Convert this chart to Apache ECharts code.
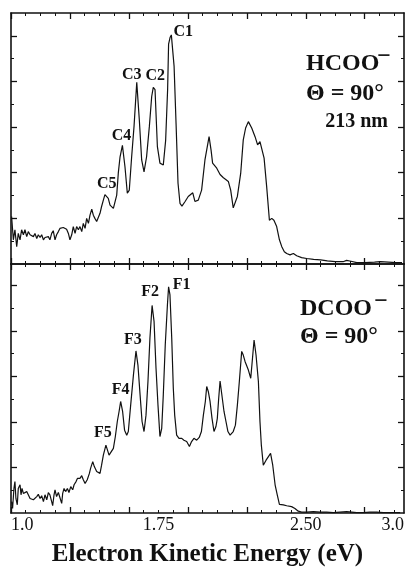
<!DOCTYPE html>
<html>
<head>
<meta charset="utf-8">
<script src="https://cdn.jsdelivr.net/npm/echarts@6/dist/echarts.min.js"></script>
<style>
  html, body { margin: 0; padding: 0; background: #fff; }
  #chart { width: 415px; height: 573px; }
</style>
</head>
<body>
<div id="chart"></div>
<script>
// Photoelectron spectra of HCOO- and DCOO- at 90 degrees (213 nm)
// Electron kinetic energy (eV) and relative signal (arb. units)

const hcooEnergy = [
  1.003,1.012,1.020,1.029,1.037,1.046,1.054,1.063,1.071,1.080,1.088,1.097,1.105,1.114,1.122,1.131,
  1.139,1.148,1.156,1.165,1.173,1.182,1.190,1.198,1.207,1.215,1.224,1.232,1.241,1.249,1.258,1.266,
  1.275,1.283,1.292,1.300,1.309,1.317,1.326,1.334,1.343,1.351,1.360,1.368,1.377,1.385,1.394,1.402,
  1.411,1.419,1.427,1.436,1.444,1.453,1.461,1.470,1.478,1.487,1.495,1.504,1.521,1.529,1.538,1.546,
  1.555,1.567,1.580,1.592,1.602,1.614,1.626,1.640,1.653,1.665,1.677,1.690,1.704,1.716,1.724,1.733,
  1.745,1.758,1.775,1.787,1.797,1.802,1.810,1.816,1.819,1.830,1.840,1.850,1.860,1.870,1.886,1.902,
  1.925,1.936,1.953,1.970,1.987,2.008,2.018,2.026,2.047,2.064,2.081,2.106,2.118,2.131,2.152,2.169,
  2.182,2.194,2.208,2.225,2.242,2.255,2.267,2.276,2.288,2.301,2.315,2.327,2.338,2.352,2.366,2.378,
  2.391,2.403,2.420,2.437,2.454,2.479,2.505,2.540,2.575,2.610,2.650,2.690,2.708,2.730,2.760,2.800,
  2.850,2.880,2.920,2.960,2.990
];
const hcooSignal = [
  1.04,0.53,0.75,0.38,0.67,0.53,0.75,0.64,0.75,0.60,0.71,0.64,0.67,0.60,0.67,0.56,
  0.64,0.58,0.64,0.53,0.58,0.54,0.60,0.53,0.67,0.73,0.53,0.64,0.71,0.78,0.82,0.80,
  0.82,0.76,0.67,0.53,0.64,0.82,0.67,0.82,0.75,0.82,0.71,0.89,0.78,1.00,0.89,1.07,
  1.20,1.07,1.00,0.93,0.96,1.11,1.26,1.40,1.52,1.55,1.44,1.29,1.22,1.26,1.51,1.99,
  2.35,2.60,2.13,1.55,1.62,2.35,3.01,3.98,3.16,2.28,2.02,2.35,3.01,3.67,3.87,3.82,
  2.57,2.21,2.17,2.71,3.82,4.82,4.97,5.02,4.99,4.33,3.08,1.77,1.33,1.27,1.37,1.48,
  1.56,1.37,1.40,1.62,2.28,2.79,2.50,2.21,2.10,1.96,1.89,1.81,1.62,1.23,1.48,1.99,
  2.72,2.98,3.12,2.98,2.79,2.61,2.68,2.72,2.32,1.70,0.96,1.00,0.96,0.82,0.53,0.38,
  0.27,0.23,0.20,0.23,0.18,0.14,0.12,0.10,0.09,0.07,0.05,0.05,0.08,0.06,0.03,0.03,
  0.04,0.05,0.04,0.03,0.03
];

const dcooEnergy = [
  1.003,1.008,1.015,1.020,1.025,1.032,1.037,1.046,1.051,1.056,1.063,1.071,1.080,1.088,1.097,1.105,
  1.114,1.122,1.131,1.139,1.148,1.156,1.165,1.173,1.182,1.190,1.198,1.207,1.212,1.219,1.224,1.232,
  1.241,1.249,1.258,1.263,1.270,1.278,1.287,1.295,1.304,1.314,1.321,1.331,1.338,1.344,1.351,1.360,
  1.368,1.377,1.388,1.399,1.405,1.416,1.424,1.436,1.453,1.461,1.470,1.483,1.490,1.499,1.509,1.521,
  1.531,1.541,1.550,1.558,1.568,1.578,1.589,1.597,1.609,1.623,1.636,1.646,1.657,1.667,1.677,1.687,
  1.697,1.707,1.718,1.728,1.738,1.748,1.758,1.767,1.775,1.785,1.796,1.802,1.809,1.818,1.826,1.833,
  1.843,1.855,1.869,1.880,1.894,1.908,1.919,1.931,1.945,1.958,1.969,1.979,1.989,1.996,2.004,2.013,
  2.023,2.033,2.043,2.050,2.057,2.064,2.072,2.084,2.094,2.104,2.115,2.123,2.131,2.142,2.152,2.162,
  2.174,2.182,2.191,2.208,2.220,2.226,2.237,2.247,2.259,2.267,2.274,2.284,2.298,2.310,2.321,2.332,
  2.344,2.355,2.366,2.386,2.403,2.428,2.445,2.462,2.479,2.505,2.539,2.573,2.606,2.640,2.674,2.708,
  2.734,2.759,2.793,2.827,2.861,2.895,2.980
];
const dcooSignal = [
  0.25,0.10,0.54,0.69,0.32,0.18,0.54,0.62,0.40,0.54,0.43,0.40,0.47,0.40,0.32,0.36,
  0.29,0.25,0.36,0.41,0.32,0.38,0.25,0.40,0.29,0.45,0.40,0.25,0.16,0.40,0.51,0.36,
  0.45,0.48,0.21,0.43,0.54,0.47,0.54,0.45,0.58,0.51,0.62,0.69,0.76,0.80,0.76,0.82,
  0.73,0.65,0.73,0.87,0.98,1.13,1.02,0.91,0.87,1.05,1.27,1.49,1.48,1.27,1.27,1.42,
  1.68,2.01,2.23,2.45,2.23,1.82,1.71,1.79,2.37,3.03,3.56,3.25,2.59,2.01,1.79,2.15,
  2.89,3.84,4.56,4.21,3.18,2.37,1.68,1.86,2.59,3.69,4.57,4.97,4.79,3.84,2.74,2.15,
  1.71,1.64,1.64,1.60,1.57,1.46,1.57,1.64,1.60,1.66,1.79,2.15,2.45,2.78,2.67,2.45,
  2.08,1.79,1.90,2.08,2.52,2.90,2.63,2.23,2.01,1.79,1.71,1.68,1.79,1.93,2.37,2.89,
  3.55,3.47,3.33,3.14,2.96,3.25,3.80,3.47,2.89,2.01,1.49,1.05,1.16,1.24,1.31,1.05,
  0.62,0.40,0.19,0.18,0.16,0.14,0.10,0.04,0.02,0.02,0.03,0.02,0.02,0.01,0.02,0.03,
  0.02,0.01,0.01,0.02,0.02,0.01,0.01
];

// Labelled vibrational peaks: name and energy of the peak maximum
const hcooPeakNames = ['C1', 'C2', 'C3', 'C4', 'C5'];
const hcooPeakEnergy = [1.816, 1.724, 1.640, 1.567, 1.487];
const dcooPeakNames = ['F1', 'F2', 'F3', 'F4', 'F5'];
const dcooPeakEnergy = [1.802, 1.718, 1.636, 1.558, 1.483];

// Axis ticks and labels
const xMajorTicks = [1.0, 1.3, 1.6, 1.9, 2.2, 2.5, 2.8];
const xLabelValues = [1.0, 1.75, 2.5, 3.0];
const xTickLabels = ['1.0', '1.75', '2.50', '3.0'];
const yMajorTicks = [1, 2, 3, 4, 5];
const yMinorTicks = [0.5, 1.5, 2.5, 3.5, 4.5];

// minor x ticks every 0.075 eV between the major ones
const xMinorTicks = [];
for (let k = 1; k < 27; k++) {
  if (k % 4 !== 0) xMinorTicks.push(+(1 + k * 0.075).toFixed(3));
}

// label placement (pixel offsets from each peak)
const hcooLabelOffsets = [[12, -3], [2, -12], [-5, -8], [-1, -9], [0, -9]];
const dcooLabelOffsets = [[13, -2], [-2, -14], [-3, -11], [0, -12], [-3, -12]];

const SERIF = '"Liberation Serif", "Times New Roman", serif';
const INK = '#111';

function pairs(xs, ys) { return xs.map((x, i) => [x, ys[i]]); }
function signalAt(xs, ys, e) {
  let best = 0;
  xs.forEach((x, i) => { if (Math.abs(x - e) < Math.abs(xs[best] - e)) best = i; });
  return ys[best];
}

function xAxesFor(grid, withLabels) {
  const base = {
    type: 'value', gridIndex: grid, min: 1.0, max: 3.0,
    splitLine: { show: false },
    axisLabel: { show: false },
    axisLine: { show: false, onZero: false }
  };
  const lineOn = { show: true, onZero: false, lineStyle: { color: INK, width: 1.6 } };
  const major = { show: true, inside: true, length: 6, customValues: xMajorTicks, lineStyle: { color: INK, width: 1.3 } };
  const minor = { show: true, inside: true, length: 3, customValues: xMinorTicks, lineStyle: { color: INK, width: 1 } };
  const bottomMajor = Object.assign({}, base, { position: 'bottom', axisLine: lineOn, axisTick: major });
  if (withLabels) {
    bottomMajor.axisLabel = {
      show: true, customValues: xLabelValues,
      formatter: v => {
        const i = xLabelValues.findIndex(t => Math.abs(t - v) < 1e-6);
        return i >= 0 ? xTickLabels[i] : '';
      },
      fontFamily: SERIF, fontSize: 18, color: INK, margin: 3,
      alignMinLabel: 'left', alignMaxLabel: 'right'
    };
    bottomMajor.name = 'Electron Kinetic Energy (eV)';
    bottomMajor.nameLocation = 'middle';
    bottomMajor.nameGap = 29;
    bottomMajor.nameTextStyle = { fontFamily: SERIF, fontWeight: 'bold', fontSize: 25, color: INK };
  }
  return [
    bottomMajor,
    Object.assign({}, base, { position: 'bottom', axisTick: minor }),
    Object.assign({}, base, { position: 'top', axisLine: lineOn, axisTick: major }),
    Object.assign({}, base, { position: 'top', axisTick: minor })
  ];
}

function yAxesFor(grid, max) {
  const base = {
    type: 'value', gridIndex: grid, min: 0, max: max,
    splitLine: { show: false },
    axisLabel: { show: false },
    axisLine: { show: false, onZero: false }
  };
  const lineOn = { show: true, onZero: false, lineStyle: { color: INK, width: 1.6 } };
  const major = { show: true, inside: true, length: 6, customValues: yMajorTicks, lineStyle: { color: INK, width: 1.3 } };
  const minor = { show: true, inside: true, length: 3, customValues: yMinorTicks, lineStyle: { color: INK, width: 1 } };
  return [
    Object.assign({}, base, { position: 'left', axisLine: lineOn, axisTick: major }),
    Object.assign({}, base, { position: 'left', axisTick: minor }),
    Object.assign({}, base, { position: 'right', axisLine: lineOn, axisTick: major }),
    Object.assign({}, base, { position: 'right', axisTick: minor })
  ];
}

function peakMarks(names, energies, xs, ys, offsets) {
  return {
    symbol: 'circle', symbolSize: 0, silent: true,
    label: {
      show: true, position: 'inside', formatter: '{b}',
      fontFamily: SERIF, fontWeight: 'bold', fontSize: 16, color: INK
    },
    data: names.map((n, i) => ({
      name: n,
      coord: [energies[i], signalAt(xs, ys, energies[i])],
      label: { offset: offsets[i] }
    }))
  };
}

function speciesText(x, y, text, size, align) {
  return {
    type: 'text', x: x, y: y, silent: true,
    style: {
      text: text, fill: INK,
      font: 'bold ' + size + 'px ' + SERIF,
      align: align || 'left', verticalAlign: 'middle'
    }
  };
}

const chart = echarts.init(document.getElementById('chart'), null, { renderer: 'canvas' });
chart.setOption({
  animation: false,
  backgroundColor: '#fff',
  grid: [
    { left: 11, right: 11, top: 13, height: 251 },
    { left: 11, right: 11, top: 264, height: 249 }
  ],
  xAxis: [].concat(xAxesFor(0, false), xAxesFor(1, true)),
  yAxis: [].concat(yAxesFor(0, 5.5), yAxesFor(1, 5.47)),
  series: [
    {
      name: 'HCOO-', type: 'line', xAxisIndex: 0, yAxisIndex: 0,
      data: pairs(hcooEnergy, hcooSignal),
      showSymbol: false, symbol: 'none',
      lineStyle: { color: INK, width: 1.2 },
      markPoint: peakMarks(hcooPeakNames, hcooPeakEnergy, hcooEnergy, hcooSignal, hcooLabelOffsets)
    },
    {
      name: 'DCOO-', type: 'line', xAxisIndex: 4, yAxisIndex: 4,
      data: pairs(dcooEnergy, dcooSignal),
      showSymbol: false, symbol: 'none',
      lineStyle: { color: INK, width: 1.2 },
      markPoint: peakMarks(dcooPeakNames, dcooPeakEnergy, dcooEnergy, dcooSignal, dcooLabelOffsets)
    }
  ],
  graphic: [
    speciesText(306, 64, 'HCOO', 24),
    speciesText(384, 57, '\u2212', 24, 'center'),
    speciesText(306, 94, '\u0398 = 90\u00b0', 24),
    speciesText(388, 122, '213 nm', 20, 'right'),
    speciesText(300, 309, 'DCOO', 24),
    speciesText(381, 302, '\u2212', 24, 'center'),
    speciesText(300, 337, '\u0398 = 90\u00b0', 24)
  ]
});
</script>
</body>
</html>
